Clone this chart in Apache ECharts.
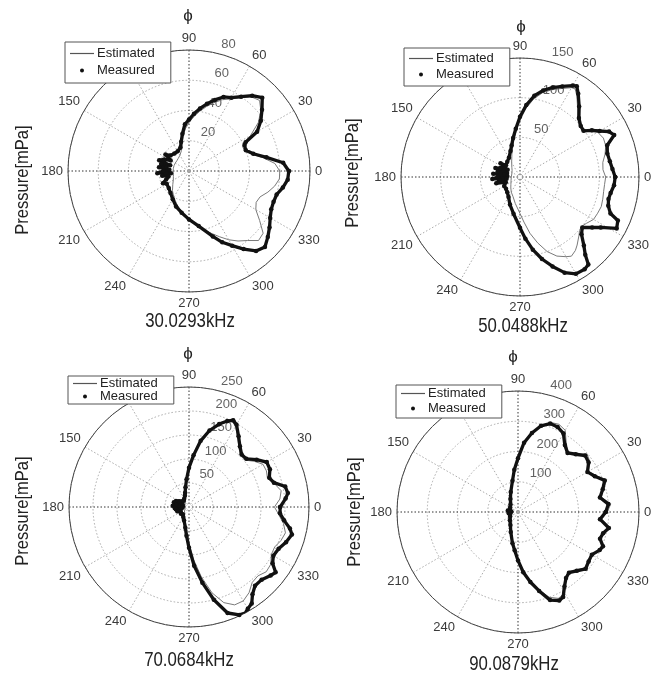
<!DOCTYPE html>
<html>
<head>
<meta charset="utf-8">
<script src="https://cdn.jsdelivr.net/npm/echarts@6/dist/echarts.min.js"></script>
<style>
  html, body { margin: 0; padding: 0; background: #fff; }
  #chart { width: 652px; height: 674px; }
</style>
</head>
<body>
<div id="chart"></div>
<script>
// Polar pressure patterns at four frequencies: estimated (line) vs measured (dots).
// Angles in degrees, pressures in mPa.

const freqLabels = ['30.0293kHz', '50.0488kHz', '70.0684kHz', '90.0879kHz'];
const radiusMax = [80, 150, 250, 400];
const radiusStep = [20, 50, 50, 100];

// 30 kHz
const f30EstAng = [0,5,10,15,20,25,30,35,40,45,50,55,60,65,70,75,80,85,90,95,100,105,110,120,130,140,150,160,170,180,190,200,210,220,230,240,250,260,270,280,290,295,300,305,310,315,320,325,330,335,340,345,350,355];
const f30Est    = [60,57,50,43,39,39,47,56,62,66,64,59,55,52,48,44,40,36,32,28,23,18,14.5,12,11,10.5,10.5,10.5,10.5,10.5,10.5,11,12,14,17,20,23.5,27.5,32,38,44,48,52.5,56.5,60,65,64,57,51,49,50,54,57.5,60];
const f30MeasAng = [0,5,10,15,20,25,27,30,35,40,45,50,55,60,65,70,75,80,85,90,95,100,105,110,120,130,140,145,150,155,160,163,166,170,173,176,180,184,187,190,195,200,205,210,220,230,240,250,260,270,280,290,295,300,305,310,315,320,325,330,335,340,345,350,355];
const f30Meas    = [66,62.5,52,44,40,40.5,42,52,58,63,68.5,65,60,56,54,50,46,42,38,34,31,25,20,16.5,15,15,16,19,14,18,21,13,19,15,20,13,17,21,12,18,14,16,19,17,17.5,19,21.5,25,28,32,37,46,52,57,63,69,71,68,65,62,60,59.5,60,63,65.5];

// 50 kHz
const f50EstAng = [0,5,10,15,20,25,30,35,40,45,50,55,58,60,65,70,75,80,85,90,95,100,105,110,120,130,140,150,160,170,180,190,200,210,220,230,240,250,260,270,275,280,285,290,295,300,303,307,310,315,318,322,325,330,335,340,345,350,355];
const f50Est    = [108,105,106,111,115,116,113,102,98,103,113,125,131,130,123,117,110,100,87,72,58,46,37,30,21,16,13,12,11,11,11,11,12,13,15,18,22,26,34,46,57,72,86,100,110,116,119,116,112,105,101,100,102,107,108,109,108,107,107];
const f50MeasAng = [0,5,10,15,20,24,27,30,33,36,40,45,50,55,58,60,65,70,75,80,85,90,95,100,105,110,120,130,140,145,150,155,160,163,166,170,173,176,180,184,187,190,195,200,210,220,230,240,250,260,270,275,280,285,290,295,300,305,308,310,313,317,321,325,328,332,336,338,342,346,350,355];
const f50Meas    = [120,117,115,114,117,130,126,116,108,99,100,105,116,128,135,133,126,120,113,104,91,76,61,50,41,35,28,25,23,30,18,27,33,17,29,20,34,16,28,35,17,26,31,19,23,23,25,29,37,47,64,78,93,107,120,133,141,142,140,128,118,106,101,111,120,138,135,123,117,115,116,119];

// 70 kHz
const f70EstAng = [0,5,10,15,20,25,30,35,40,45,50,55,60,63,66,70,75,80,85,90,95,100,105,110,120,130,140,150,160,170,180,190,200,210,220,230,240,250,260,265,270,275,280,285,290,295,300,305,310,315,320,325,330,335,340,345,350,355];
const f70Est    = [178,190,195,185,174,178,178,166,152,152,162,177,194,199,194,182,163,138,106,80,56,40,29,22,16,12,10,10,9,9,9,9,9,10,12,15,19,25,38,52,76,110,148,185,212,225,226,218,205,203,210,208,198,197,204,208,200,188];
const f70MeasAng = [0,5,8,12,16,20,25,30,35,40,45,50,55,60,63,66,70,75,80,85,90,95,100,105,110,120,130,140,150,155,160,163,166,170,173,176,180,184,187,190,195,200,210,220,230,240,250,260,265,270,275,280,285,290,295,298,300,303,306,310,315,320,323,326,330,335,340,345,348,352,356];
const f70Meas    = [190,202,208,205,184,178,186,187,172,156,155,165,180,198,203,196,184,165,140,108,82,58,42,31,25,20,17,18,24,30,14,33,18,28,13,34,20,30,14,28,18,26,20,22,20,24,30,44,60,85,123,160,200,235,248,250,245,240,225,214,214,222,226,210,203,206,215,222,215,200,190];

// 90 kHz
const f90EstAng = [0,5,10,15,20,25,30,35,40,45,50,55,60,65,70,75,80,85,90,95,100,110,120,135,150,165,180,195,210,225,240,250,260,265,270,275,280,285,290,295,298,302,306,310,315,320,325,330,335,338,342,346,350,355];
const f90Est    = [295,308,280,292,312,285,268,290,298,272,258,278,312,320,315,295,262,228,175,136,102,66,46,30,24,22,22,22,24,32,45,65,100,122,155,195,230,265,300,315,312,288,268,258,270,288,282,280,296,305,288,292,310,278];
const f90MeasAng = [0,5,10,15,20,25,30,35,40,45,50,55,60,65,70,75,80,85,90,95,100,110,120,135,150,165,172,176,180,184,188,195,210,225,240,250,260,265,270,275,280,285,290,295,298,302,306,310,315,320,325,330,335,338,342,346,350,355];
const f90Meas    = [290,300,275,290,305,280,265,285,290,270,255,270,300,310,311,295,265,230,178,140,105,70,50,35,30,28,34,22,30,24,31,28,30,38,50,70,105,127,160,200,235,270,310,323,318,290,270,262,275,292,285,282,298,303,285,290,305,272];

const panels = [
  { center: [189, 171], radius: 121, est: [f30EstAng, f30Est], meas: [f30MeasAng, f30Meas],
    legend: { left: 65, top: 42, gap: 4, pad: [5, 16, 6, 5] },
    phi: [188, 16], freq: [190, 321], ylab: [23, 180] },
  { center: [520, 177], radius: 119, est: [f50EstAng, f50Est], meas: [f50MeasAng, f50Meas],
    legend: { left: 404, top: 48, gap: 3, pad: [4, 16, 5, 5] },
    phi: [521, 27], freq: [523, 326], ylab: [353, 173] },
  { center: [189, 507], radius: 120, est: [f70EstAng, f70Est], meas: [f70MeasAng, f70Meas],
    legend: { left: 68, top: 376, gap: 0, pad: [1, 16, 1, 5] },
    phi: [188, 354], freq: [189, 660], ylab: [23, 511] },
  { center: [518, 512], radius: 121, est: [f90EstAng, f90Est], meas: [f90MeasAng, f90Meas],
    legend: { left: 396, top: 385, gap: 2, pad: [2, 16, 3, 5] },
    phi: [513, 357], freq: [514, 664], ylab: [355, 512] }
];

const FONT = '"Liberation Sans", Arial, Helvetica, sans-serif';

function toPolar(angles, values, close) {
  const pts = angles.map((a, k) => [values[k], a]);
  if (close) pts.push([values[0], angles[0] + 360]);
  return pts;
}

const option = {
  backgroundColor: '#fff',
  animation: false,
  polar: [], angleAxis: [], radiusAxis: [], series: [], legend: [], graphic: []
};

panels.forEach((p, i) => {
  option.polar.push({ center: p.center, radius: p.radius });
  option.angleAxis.push({
    polarIndex: i, type: 'value', min: 0, max: 360, interval: 30,
    startAngle: 0, clockwise: false,
    axisLine: { lineStyle: { color: '#444', width: 1 } },
    axisTick: { show: false },
    axisLabel: {
      color: '#3a3a3a', fontSize: 13, fontFamily: FONT, margin: 5,
      formatter: v => (v >= 360 ? '' : String(v))
    },
    splitLine: { show: true, lineStyle: { type: [1.5, 2], width: 1, color: ['#333', '#aaa', '#aaa'] } }
  });
  option.radiusAxis.push({
    polarIndex: i, type: 'value', min: 0, max: radiusMax[i], interval: radiusStep[i],
    axisLine: { show: false }, axisTick: { show: false }, axisLabel: { show: false },
    splitLine: { show: true, lineStyle: { type: [1.5, 2], width: 1, color: '#aaa' } }
  });

  // radial tick labels, placed along a fixed angle
  const ringVals = [];
  for (let v = radiusStep[i]; v <= radiusMax[i]; v += radiusStep[i]) ringVals.push(v);
  option.series.push({
    type: 'scatter', coordinateSystem: 'polar', polarIndex: i, silent: true,
    symbolSize: 0, z: 3,
    data: ringVals.map(v => [v, 77]),
    label: {
      show: true, position: 'inside', align: 'left', verticalAlign: 'middle',
      offset: [5, -9], color: '#3a3a3a', fontSize: 13, fontFamily: FONT,
      formatter: d => String(d.value[0])
    }
  });

  option.series.push({
    name: 'Estimated', type: 'line', coordinateSystem: 'polar', polarIndex: i,
    data: toPolar(p.est[0], p.est[1], true),
    symbol: 'none', smooth: false, z: 4,
    lineStyle: { color: '#7a7a7a', width: 1 },
    itemStyle: { color: '#7a7a7a' }
  });
  option.series.push({
    name: 'Measured', type: 'line', coordinateSystem: 'polar', polarIndex: i,
    data: toPolar(p.meas[0], p.meas[1], true),
    symbol: 'circle', symbolSize: 4.5, showAllSymbol: true, z: 5,
    lineStyle: { color: '#111', width: 3.3 },
    itemStyle: { color: '#111' }
  });

  option.legend.push({
    orient: 'vertical', left: p.legend.left, top: p.legend.top,
    itemWidth: 24, itemHeight: 4, itemGap: p.legend.gap, padding: p.legend.pad,
    backgroundColor: '#fff', borderColor: '#555', borderWidth: 1, borderRadius: 0,
    selectedMode: false, z: 10,
    textStyle: { fontSize: 13, color: '#222', fontFamily: FONT, padding: [0, 0, 0, -2] },
    data: [
      { name: 'Estimated', icon: 'path://M0,0H24V1.2H0Z', itemStyle: { color: '#555' } },
      { name: 'Measured', icon: 'circle' }
    ]
  });

  option.graphic.push(
    { type: 'text', x: p.phi[0], y: p.phi[1], z: 10,
      style: { text: 'ϕ', font: '17px ' + FONT, fill: '#222', textAlign: 'center', textVerticalAlign: 'middle' } },
    { type: 'text', x: p.freq[0], y: p.freq[1], z: 10, scaleX: 0.84,
      style: { text: freqLabels[i], font: '20px ' + FONT, fill: '#222', textAlign: 'center', textVerticalAlign: 'middle' } },
    { type: 'text', x: p.ylab[0], y: p.ylab[1], rotation: Math.PI / 2, z: 10, scaleX: 0.87,
      style: { text: 'Pressure[mPa]', font: '19px ' + FONT, fill: '#222', textAlign: 'center', textVerticalAlign: 'middle' } }
  );
});

const chart = echarts.init(document.getElementById('chart'), null, { renderer: 'canvas' });
chart.setOption(option);
</script>
</body>
</html>
